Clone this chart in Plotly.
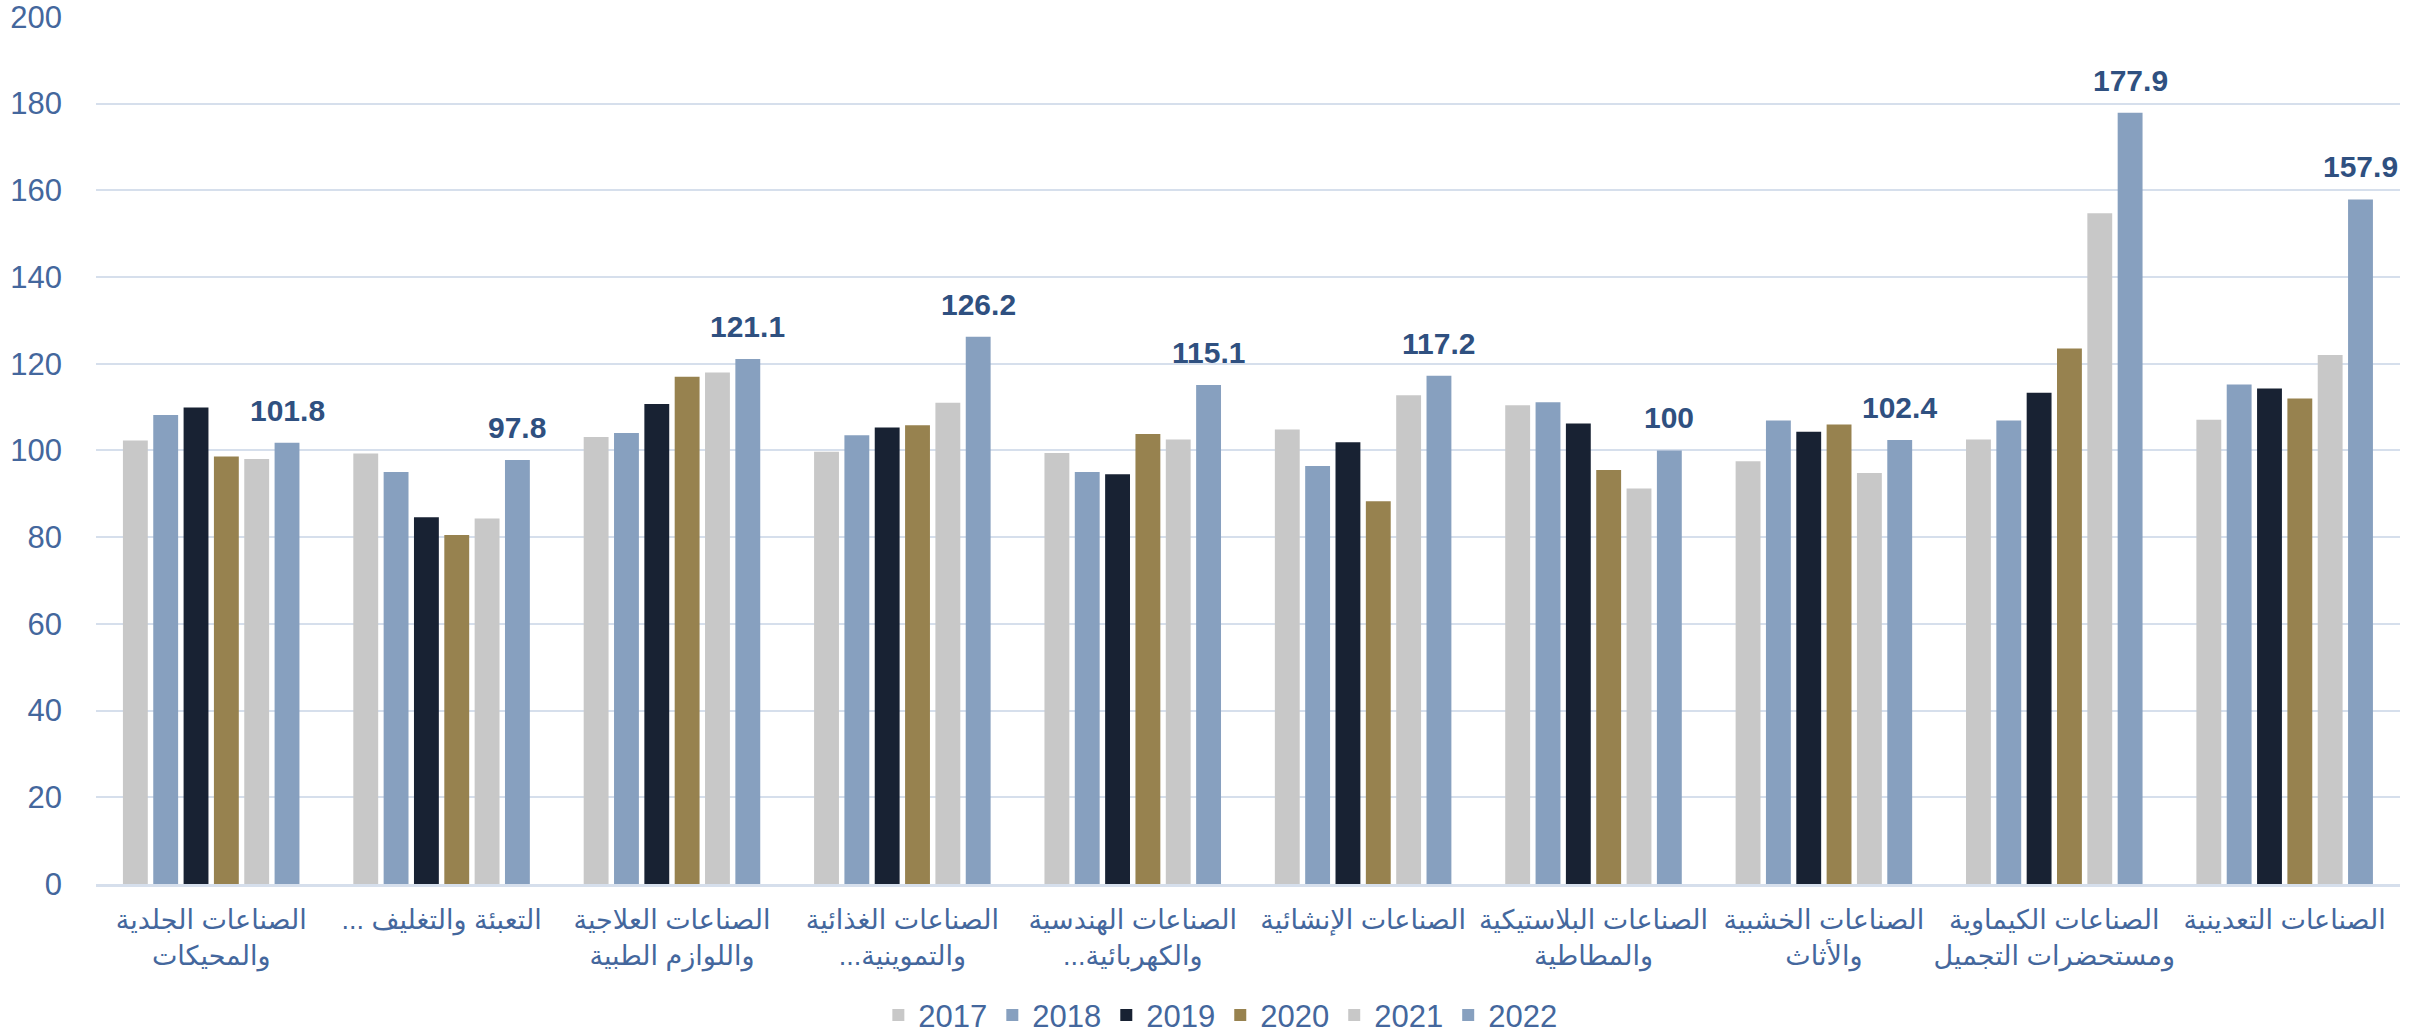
import plotly.graph_objects as go

RLM = "\u200f"
categories = [
    "الصناعات الجلدية<br>والمحيكات",
    "التعبئة والتغليف ..." + RLM,
    "الصناعات العلاجية<br>واللوازم الطبية",
    "الصناعات الغذائية<br>والتموينية..." + RLM,
    "الصناعات الهندسية<br>والكهربائية..." + RLM,
    "الصناعات الإنشائية",
    "الصناعات البلاستيكية<br>والمطاطية",
    "الصناعات الخشبية<br>والأثاث",
    "الصناعات الكيماوية<br>ومستحضرات التجميل",
    "الصناعات التعدينية",
]

years = ["2017", "2018", "2019", "2020", "2021", "2022"]

v2017 = [102.3, 99.3, 103.1, 99.7, 99.4, 104.8, 110.4, 97.5, 102.5, 107.1]
v2018 = [108.2, 95.0, 104.0, 103.5, 95.0, 96.4, 111.1, 106.9, 106.9, 115.2]
v2019 = [109.9, 84.6, 110.7, 105.3, 94.5, 101.9, 106.2, 104.3, 113.3, 114.3]
v2020 = [98.6, 80.5, 117.0, 105.8, 103.8, 88.3, 95.5, 106.0, 123.5, 112.0]
v2021 = [98.0, 84.3, 118.0, 111.0, 102.5, 112.7, 91.2, 94.8, 154.7, 122.0]
v2022 = [101.8, 97.8, 121.1, 126.2, 115.1, 117.2, 100, 102.4, 177.9, 157.9]

series = [v2017, v2018, v2019, v2020, v2021, v2022]
colors = ["#c8c8c8", "#87a0bf", "#182233", "#97824f", "#c8c8c8", "#87a0bf"]

num_font = "Liberation Sans Narrow, Arial Narrow, Liberation Sans, Arial, sans-serif"
text_color = "#44679d"
label_color = "#2f5080"

W, H = 2428, 1035
ML, MR, MT, MB = 96, 28, 16, 151
BARGAP, GROUPGAP = 0.21, 0.18

fig = go.Figure()
for yr, vals, col in zip(years, series, colors):
    fig.add_trace(go.Bar(
        name=yr,
        x=categories,
        y=vals,
        marker=dict(color=col, line=dict(width=0)),
    ))

# value labels above the last (2022) bar of each group
cat_px = (W - ML - MR) / len(categories)
slot_px = cat_px * (1 - BARGAP) / len(years)
last_shift = -cat_px * (1 - BARGAP) / 2 + slot_px * (len(years) - 0.5)
for cat, val in zip(categories, v2022):
    fig.add_annotation(
        x=cat, y=val, text=f"{val:g}",
        xref="x", yref="y",
        showarrow=False,
        yanchor="bottom",
        xshift=last_shift,
        yshift=14,
        font=dict(family=num_font, size=30, color=label_color, weight="bold"),
    )

fig.update_layout(
    width=W,
    height=H,
    barmode="group",
    bargap=BARGAP,
    bargroupgap=GROUPGAP,
    plot_bgcolor="white",
    paper_bgcolor="white",
    margin=dict(l=ML, r=MR, t=MT, b=MB, autoexpand=False),
    font=dict(family=num_font, color=text_color),
    legend=dict(
        orientation="h",
        x=0.488,
        xanchor="center",
        yref="container",
        y=0.019,
        yanchor="middle",
        font=dict(size=31, family=num_font, color=text_color),
        itemwidth=30,
        tracegroupgap=0,
    ),
    showlegend=True,
)

fig.update_yaxes(
    range=[0, 200.2],
    tickvals=[0, 20, 40, 60, 80, 100, 120, 140, 160, 180, 200],
    showgrid=True,
    gridcolor="#d6dfec",
    gridwidth=2,
    zeroline=False,
    tickfont=dict(size=31, family=num_font, color=text_color),
    ticks="",
    ticklabelstandoff=33,
    ticklabeloverflow="allow",
    automargin=False,
)

fig.update_xaxes(
    showline=True,
    linecolor="#d6dfec",
    linewidth=3,
    tickfont=dict(size=27, family="Liberation Sans, Arial, DejaVu Sans, sans-serif", color=text_color),
    ticks="",
    tickangle=0,
    ticklabelstandoff=10,
    automargin=False,
)

fig.write_html(
    "out.html",
    config={"displayModeBar": False},
    post_script="document.body.style.margin='0';document.body.style.overflow='hidden';",
)
